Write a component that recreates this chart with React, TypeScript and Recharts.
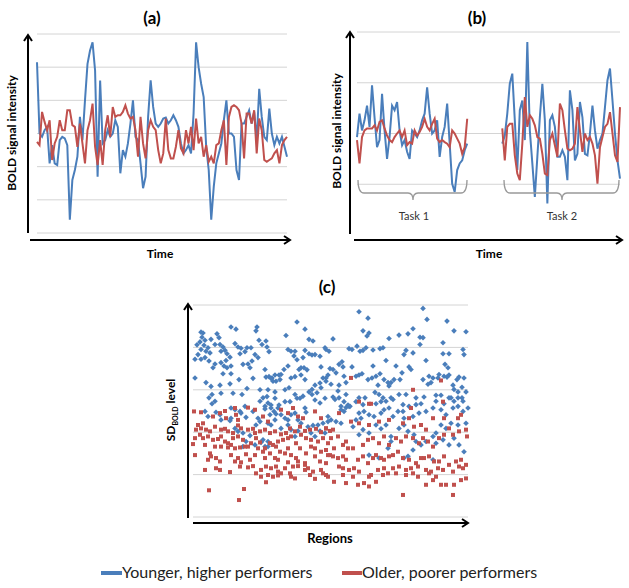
import { LineChart, Line, XAxis, YAxis, ReferenceLine, ScatterChart, Scatter } from 'recharts'

const BLUE = '#4A7EBB'
const RED = '#C0504D'
const GRID = '#d4d4d4'
const FONT = 'Lato, "Open Sans", sans-serif'

// (a) resting-state time courses
const restYounger = [
  5.15, 3.0, 2.9, 3.1, 3.2, 2.1, 2.65, 2.1, 2.05, 2.8,
  2.9, 2.85, 2.65, 0.4, 1.6, 1.9, 2.3, 3.5, 2.8, 4.0,
  5.1, 5.5, 5.75, 4.9, 1.7, 4.6, 2.7, 2.8, 3.1, 2.9,
  3.0, 3.4, 3.2, 1.8, 2.5, 2.3, 2.7, 3.3, 4.0, 2.9,
  2.8, 2.1, 1.35, 1.7, 3.5, 4.6, 3.8, 3.3, 3.2, 3.3,
  3.45, 3.48, 3.3, 3.4, 3.55, 3.4, 3.2, 2.7, 2.4, 2.5,
  2.65, 2.4, 3.6, 5.75, 5.0, 4.5, 4.1, 2.6, 1.9, 0.4,
  1.4, 2.1, 2.4, 2.7, 3.4, 4.0, 3.0, 3.0, 2.9, 1.9,
  1.6, 3.3, 3.3, 3.5, 3.7, 3.3, 3.65, 2.8, 4.35, 3.5,
  2.9, 2.8, 3.75, 3.0, 2.65, 2.9, 2.7, 2.9, 2.6, 2.3,
]
const restOlder = [
  2.75, 2.65, 3.65, 3.35, 3.1, 3.4, 2.2, 2.7, 2.9, 3.4,
  3.1, 3.1, 3.7, 3.7, 3.25, 3.2, 2.6, 3.3, 2.7, 2.1,
  3.1, 3.4, 3.9, 2.6, 2.05, 2.8, 2.05, 3.1, 3.55, 2.9,
  3.8, 3.5, 3.55, 3.55, 3.65, 3.85, 3.6, 3.45, 3.5, 3.1,
  2.3, 3.5, 2.7, 2.25, 3.1, 3.4, 3.2, 3.1, 2.5, 2.1,
  2.4, 3.45, 2.5, 2.25, 2.25, 2.6, 3.1, 2.55, 2.4, 3.1,
  2.7, 3.2, 2.5, 3.45, 2.7, 2.9, 2.3, 2.65, 2.15, 2.3,
  2.1, 2.65, 2.7, 3.1, 3.4, 2.05, 3.5, 3.8, 3.85, 3.8,
  3.7, 3.3, 2.25, 3.6, 3.6, 3.3, 3.7, 2.4, 3.45, 3.1,
  2.2, 2.15, 2.2, 2.25, 2.4, 2.5, 2.1, 2.65, 2.8, 2.9,
]

// (b) task time courses
const task1Younger = [
  1.93, 2.39, 2.06, 2.26, 2.55, 2.13, 2.95, 2.32, 1.73, 1.87,
  2.78, 2.06, 1.5, 1.93, 2.55, 2.46, 2.62, 2.06, 1.77, 1.87,
  1.64, 1.5, 2.06, 2.0, 1.93, 2.06, 2.26, 2.39, 2.91, 2.39,
  2.0, 2.06, 2.26, 1.54, 1.93, 2.13, 2.59, 1.8, 1.01, 0.85,
  1.28, 1.41, 1.47, 1.67, 1.8,
]
const task1Older = [
  1.87, 1.41, 1.93, 2.06, 2.1, 2.1, 2.1, 2.16, 2.06, 2.23,
  2.26, 2.1, 1.96, 1.87, 1.83, 1.93, 2.0, 2.06, 1.93, 2.06,
  1.77, 1.83, 1.8, 2.06, 1.96, 2.03, 2.13, 2.29, 2.13, 2.06,
  2.19, 2.29, 1.9, 1.83, 1.87, 1.83, 1.8, 1.73, 2.06, 2.0,
  1.9, 1.8, 1.6, 1.73, 2.29,
]
const task2Younger = [
  1.8, 1.96, 2.39, 2.98, 3.18, 2.26, 1.28, 2.46, 2.65, 1.87,
  3.8, 2.06, 1.41, 0.75, 1.54, 2.32, 2.98, 2.26, 0.62, 2.26,
  2.36, 2.13, 1.54, 1.54, 1.67, 1.54, 1.08, 2.85, 2.46, 1.47,
  1.6, 2.62, 2.32, 1.6, 1.57, 2.0, 2.55, 2.06, 1.7, 1.87,
  2.0, 2.52, 3.05, 3.28, 2.65, 2.0, 1.47, 1.11,
]
const task2Older = [
  2.1, 1.47, 2.13, 2.19, 2.19, 1.57, 1.21, 1.08, 1.8, 2.72,
  2.13, 2.36, 2.29, 2.16, 1.93, 1.9, 1.6, 1.21, 1.18, 1.87,
  2.0, 1.77, 1.54, 2.59, 2.46, 2.06, 1.7, 1.67, 1.7, 1.8,
  2.52, 2.06, 1.64, 2.0, 1.87, 1.93, 1.8, 1.57, 1.01, 1.73,
  1.93, 2.13, 2.19, 2.42, 2.0, 1.57, 1.44, 2.52,
]
const task2Start = 58

// (c) SD_BOLD per region: [region, sd]
const sdYounger: [number, number][] = [
  [8,4.36],[10,4.34],[9,4.24],[12,4.17],[7,4.13],[4,4.06],[11,4.05],[15,3.99],[8,3.95],[13,3.91],
  [17,3.87],[5,3.83],[2,3.72],[8,3.72],[12,3.76],[16,3.68],[2,3.28],[18,4.19],[24,4.32],[26,4.23],
  [22,4.07],[27,4.07],[30,4.01],[28,3.91],[32,3.93],[34,3.85],[37,3.77],[33,3.69],[28,3.64],[22,3.61],
  [20,3.52],[31,3.56],[34,3.52],[38,3.56],[38,3.38],[30,3.38],[38,4.48],[43,4.43],[42,4.09],[45,4.01],
  [48,3.98],[47,3.85],[52,3.9],[54,3.99],[58,3.99],[50,3.6],[55,3.61],[59,3.68],[57,3.52],[62,3.83],
  [65,3.76],[63,4.39],[64,4.48],[66,4.17],[69,4.07],[73,4.15],[74,4.01],[76,3.9],[72,3.48],[73,3.3],
  [76,3.31],[79,3.28],[82,3.35],[86,3.35],[88,3.36],[87,3.24],[83,3.2],[80,3.2],[78,3.27],[91,3.48],
  [95,3.56],[98,3.28],[102,3.31],[106,3.48],[108,3.52],[111,3.52],[114,3.47],[108,3.35],[112,3.24],[93,4.28],
  [95,3.95],[98,3.91],[102,3.91],[101,3.8],[104,3.71],[110,3.76],[112,3.93],[116,3.85],[119,3.82],[112,4.43],
  [116,4.19],[120,4.15],[122,3.83],[127,3.79],[128,3.54],[132,3.99],[130,3.28],[127,3.16],[122,3.11],[119,3.01],
  [119,2.89],[124,2.93],[128,3.05],[133,3.2],[135,3.35],[104,4.6],[13,3.17],[18,3.08],[27,3.11],[37,3.14],
  [46,3.24],[60,3.27],[67,3.0],[75,3.0],[74,2.84],[70,2.81],[82,2.95],[92,3.0],[96,3.05],[102,2.89],
  [110,2.85],[116,2.95],[28,2.92],[19,2.89],[16,2.81],[40,2.92],[49,2.89],[54,3.03],[67,2.73],[75,2.69],
  [82,2.8],[86,2.64],[92,2.72],[97,2.72],[104,2.8],[107,2.8],[122,2.76],[127,2.69],[132,2.8],[19,2.67],
  [22,2.73],[52,2.61],[72,2.61],[78,2.64],
  [166,4.84],[175,4.69],[230,4.92],[234,4.66],[254,4.62],[140,4.2],[170,4.39],[176,4.34],[174,4.27],[196,4.21],
  [206,4.29],[215,4.32],[220,4.44],[227,4.24],[230,4.23],[261,4.39],[273,4.37],[156,3.97],[159,3.95],[164,4.03],
  [167,3.91],[170,3.93],[173,3.99],[180,3.94],[187,3.97],[190,3.99],[213,3.93],[211,3.83],[220,3.87],[227,4.07],
  [250,4.11],[250,3.85],[256,3.85],[270,3.95],[271,3.83],[133,3.95],[136,3.91],[193,3.69],[203,3.56],[216,3.54],
  [218,3.48],[233,3.69],[252,3.6],[255,3.52],[146,3.6],[149,3.66],[137,3.5],[140,3.48],[143,3.4],[150,3.54],
  [151,3.32],[159,3.54],[163,3.32],[166,3.35],[169,3.38],[175,3.24],[179,3.28],[183,3.32],[187,3.38],[185,3.11],
  [191,3.24],[195,3.17],[196,3.09],[198,3.17],[201,3.24],[207,3.24],[209,3.4],[180,3.56],[133,3.28],[138,3.13],
  [146,3.11],[153,3.17],[145,2.97],[140,2.83],[142,2.77],[146,2.81],[153,2.89],[151,2.72],[148,2.61],[155,2.64],
  [157,2.61],[166,2.81],[172,2.81],[182,2.94],[186,2.89],[190,2.81],[193,2.73],[198,2.81],[200,2.77],[206,2.89],
  [213,2.89],[223,2.81],[231,2.83],[230,3.24],[236,3.32],[240,3.28],[238,3.17],[235,3.13],[245,3.28],[246,3.36],
  [251,3.32],[254,3.3],[256,3.35],[260,3.11],[264,3.24],[266,3.3],[271,3.28],[269,3.06],[261,3.01],[265,2.95],
  [273,2.95],[243,2.87],[248,2.87],[256,2.81],[258,2.81],[261,2.73],[265,2.81],[269,2.81],[270,2.73],[210,2.65],
  [223,2.65],[228,2.67],[216,2.61],[243,2.73],[251,2.67],[170,2.65],[163,2.72],[183,2.67],[188,2.72],
  [12,2.49],[15,2.37],[23,2.47],[27,2.41],[28,2.29],[38,2.57],[42,2.53],[47,2.49],[48,2.45],[38,2.33],
  [37,2.27],[60,2.49],[53,2.35],[72,2.55],[78,2.57],[81,2.49],[83,2.43],[85,2.57],[88,2.41],[92,2.33],
  [95,2.29],[98,2.41],[102,2.45],[105,2.29],[112,2.57],[113,2.47],[108,2.21],[95,2.17],[88,2.09],[98,2.06],
  [105,2.03],[115,2.13],[120,2.16],[125,2.17],[130,2.21],[135,2.25],[127,2.03],[132,1.98],[82,2.29],[75,2.21],
  [77,2.41],[67,2.25],[63,2.17],[65,2.33],[42,2.09],[45,2.02],[50,1.98],[57,1.92],[70,1.82],[68,1.76],
  [75,1.78],[72,1.66],[75,1.66],[53,1.78],[50,1.66],[62,1.7],[78,2.17],[118,1.98],[122,1.9],[102,1.9],
  [148,2.53],[153,2.58],[156,2.61],[151,2.49],[166,2.45],[171,2.49],[176,2.41],[168,2.33],[163,2.29],[181,2.37],
  [188,2.45],[191,2.53],[196,2.57],[200,2.37],[205,2.49],[210,2.49],[211,2.33],[220,2.37],[226,2.45],[233,2.49],
  [240,2.57],[248,2.53],[253,2.41],[260,2.57],[265,2.61],[270,2.49],[275,2.57],[135,2.37],[138,2.29],[143,2.25],
  [148,2.21],[160,2.13],[170,2.06],[166,1.94],[176,1.98],[183,2.17],[188,2.08],[193,2.17],[198,1.9],[206,2.09],
  [211,2.17],[215,2.02],[221,1.94],[223,1.78],[228,1.7],[233,1.78],[240,1.9],[243,1.98],[248,2.17],[253,2.09],
  [258,2.21],[265,2.17],[273,2.21],[243,1.74],[250,1.82],[256,1.7],[261,1.86],[266,1.7],[271,1.54],[176,1.46],
  [186,1.39],[211,1.39],[215,1.43],[240,1.35],[195,1.62],[220,1.58],[198,1.78],
]
const sdOlder: [number, number][] = [
  [42,2.57],[100,2.57],[158,3.28],[220,3.0],[248,3.22],[166,2.72],[176,2.67],[178,2.67],[250,2.72],
  [1,2.49],[8,2.47],[20,2.37],[27,2.45],[32,2.5],[33,2.33],[43,2.41],[45,2.29],[55,2.58],[62,2.53],
  [75,2.25],[70,2.37],[88,2.53],[95,2.45],[105,2.37],[110,2.33],[122,2.49],[128,2.33],[5,2.17],[10,2.21],
  [3,2.06],[8,2.09],[13,2.06],[17,2.02],[22,2.13],[28,2.06],[32,2.08],[35,2.02],[40,1.98],[45,2.16],
  [48,2.09],[55,2.06],[60,2.08],[62,1.98],[67,2.02],[72,2.06],[77,1.98],[82,2.02],[88,1.95],[93,1.98],
  [97,2.09],[102,2.02],[107,2.13],[112,2.03],[117,2.06],[123,2.08],[128,2.0],[133,2.09],[137,2.03],[7,1.94],
  [2,1.86],[10,1.86],[15,1.9],[20,1.82],[25,1.84],[28,1.9],[32,1.78],[35,1.74],[40,1.86],[45,1.9],
  [50,1.82],[52,1.66],[58,1.74],[63,1.86],[67,1.76],[77,1.74],[80,1.7],[85,1.78],[90,1.82],[95,1.86],
  [98,1.9],[103,1.74],[108,1.94],[113,1.86],[118,1.82],[125,1.78],[130,1.86],[135,1.74],[0,1.72],[12,1.7],
  [22,1.66],[28,1.66],[35,1.64],[38,1.7],[42,1.62],[47,1.64],[55,1.66],[65,1.62],[72,1.62],[83,1.66],
  [95,1.62],[107,1.62],[118,1.66],[2,1.46],[17,1.5],[18,1.43],[23,1.39],[38,1.46],[45,1.39],[53,1.48],
  [62,1.46],[70,1.54],[77,1.5],[87,1.54],[92,1.5],[98,1.46],[103,1.39],[113,1.5],[122,1.43],[128,1.54],
  [133,1.58],[137,1.46],[15,1.35],[27,1.31],[42,1.31],[48,1.29],[57,1.35],[72,1.39],[82,1.39],[85,1.35],
  [95,1.29],[105,1.31],[112,1.27],[127,1.31],[133,1.27],[122,1.62],[12,1.11],[23,1.15],[27,1.11],[37,1.06],
  [47,1.19],[55,1.17],[60,1.2],[63,1.03],[68,1.11],[73,1.19],[78,1.15],[83,1.19],[85,1.07],[92,1.15],
  [97,1.03],[100,1.19],[105,1.2],[112,1.23],[115,1.15],[120,1.07],[128,1.11],[133,0.99],[75,0.99],[80,0.95],
  [85,0.98],[98,0.95],[102,0.91],[68,0.95],[73,0.82],[88,1.03],[112,1.11],[117,0.99],[122,0.9],[130,1.03],
  [16,0.63],[51,0.66],[46,0.4],
  [133,2.09],[140,2.06],[138,1.86],[145,1.9],[150,1.7],[153,1.78],[141,1.62],[155,1.62],[160,1.62],[170,1.7],
  [175,1.82],[180,1.86],[186,1.74],[191,1.9],[196,1.7],[203,1.86],[208,1.78],[213,1.9],[220,1.86],[226,1.74],
  [230,1.86],[235,1.78],[240,1.66],[246,1.86],[251,1.94],[256,2.09],[260,1.94],[266,2.02],[273,2.06],[274,1.9],
  [135,1.46],[140,1.43],[145,1.39],[150,1.43],[153,1.35],[146,1.19],[150,1.15],[156,1.11],[161,1.15],[166,1.07],
  [175,1.27],[180,1.39],[183,1.46],[188,1.39],[191,1.35],[196,1.43],[200,1.46],[205,1.54],[210,1.39],[216,1.35],
  [223,1.27],[228,1.39],[231,1.39],[236,1.43],[241,1.31],[246,1.31],[251,1.43],[256,1.23],[263,1.31],[268,1.35],
  [273,1.23],[170,1.43],[165,1.35],[185,1.11],[191,1.15],[200,1.15],[206,1.19],[213,1.11],[218,1.15],[225,1.19],
  [233,1.11],[238,1.07],[245,1.15],[250,1.11],[260,1.07],[266,1.19],[270,1.15],[135,0.95],[141,0.83],[150,0.99],
  [153,0.8],[160,0.95],[165,0.76],[171,0.8],[176,0.72],[178,0.99],[183,0.83],[190,0.99],[195,1.03],[203,1.03],
  [213,0.99],[220,1.03],[225,0.95],[233,0.76],[236,1.03],[240,0.87],[243,0.95],[248,0.76],[253,0.76],[261,0.76],
  [268,0.87],[273,0.91],[210,0.52],[260,0.52],[176,0.95],[221,2.13],[228,2.17],[233,2.06],[216,2.33],[196,2.29],
  [186,2.25],[176,2.17],[166,2.21],[158,2.25],[146,2.45],[210,2.21],[240,2.33],[251,2.33],[265,2.33],[268,2.41],
  [218,2.57],
]

const restTicks = [0, 1, 2, 3, 4, 5, 6]
const taskTicks = [1, 2, 3, 4]
const sdTicks = [0, 1, 2, 3, 4, 5]

const restData = restYounger.map((v, i) => ({ t: i, younger: v, older: restOlder[i] }))
const task1Data = task1Younger.map((v, i) => ({ t: i, younger: v, older: task1Older[i] }))
const task2Data = task2Younger.map((v, i) => ({ t: task2Start + i, younger: v, older: task2Older[i] }))
const youngerPts = sdYounger.map(([region, sd]) => ({ region, sd }))
const olderPts = sdOlder.map(([region, sd]) => ({ region, sd }))

const Diamond = (p: any) => (
  <polygon
    points={`${p.cx},${p.cy - 2.8} ${p.cx + 2.8},${p.cy} ${p.cx},${p.cy + 2.8} ${p.cx - 2.8},${p.cy}`}
    fill={BLUE}
  />
)
const Square = (p: any) => <rect x={p.cx - 2} y={p.cy - 2} width={4} height={4} fill={RED} />

const gridLines = (ticks: number[]) =>
  ticks.map((v) => <ReferenceLine key={v} y={v} stroke={GRID} strokeWidth={1} ifOverflow="visible" />)

function Arrows({ x, yTop, yBot, xLeft, xRight, yAxis }: any) {
  return (
    <g stroke="#000" strokeWidth={2} fill="none">
      <line x1={x} y1={yBot} x2={x} y2={yTop} />
      <polyline points={`${x - 4},${yTop + 6} ${x},${yTop} ${x + 4},${yTop + 6}`} />
      <line x1={xLeft} y1={yAxis} x2={xRight} y2={yAxis} />
      <polyline points={`${xRight - 6},${yAxis - 4} ${xRight},${yAxis} ${xRight - 6},${yAxis + 4}`} />
    </g>
  )
}

function Brace({ x1, x2, xc }: any) {
  const yt = 180, ym = 193, yb = 200
  return (
    <path
      d={`M${x1},${yt} Q${x1},${ym} ${x1 + 6},${ym} L${xc - 5},${ym} Q${xc},${ym} ${xc},${yb} Q${xc},${ym} ${xc + 5},${ym} L${x2 - 6},${ym} Q${x2},${ym} ${x2},${yt}`}
      stroke="#999"
      strokeWidth={1.3}
      fill="none"
    />
  )
}

export default function App() {
  return (
    <div style={{ position: 'absolute', left: 0, top: 0, width: 629, height: 588, background: '#fff', fontFamily: FONT }}>
      <div style={{ position: 'absolute', left: 0, top: 0 }}>
        <LineChart width={300} height={260} data={restData} margin={{ top: 34, left: 37, right: 13, bottom: 27 }}>
          <XAxis dataKey="t" type="number" domain={[0, 99]} height={0} tick={false} axisLine={false} tickLine={false} />
          <YAxis domain={[0, 6]} ticks={restTicks} width={0} tick={false} axisLine={false} tickLine={false} />
          {gridLines(restTicks)}
          <Line dataKey="younger" stroke={BLUE} strokeWidth={2} dot={false} isAnimationActive={false} />
          <Line dataKey="older" stroke={RED} strokeWidth={2} dot={false} isAnimationActive={false} />
        </LineChart>
      </div>

      <div style={{ position: 'absolute', left: 340, top: 0 }}>
        <LineChart width={289} height={260} margin={{ top: 32, left: 17, right: 9, bottom: 25 }}>
          <XAxis dataKey="t" type="number" domain={[0, 105]} allowDuplicatedCategory={false} height={0} tick={false} axisLine={false} tickLine={false} />
          <YAxis domain={[0, 4]} ticks={taskTicks} width={0} tick={false} axisLine={false} tickLine={false} />
          {gridLines(taskTicks)}
          <Line data={task1Data} dataKey="younger" stroke={BLUE} strokeWidth={2} dot={false} isAnimationActive={false} />
          <Line data={task2Data} dataKey="younger" stroke={BLUE} strokeWidth={2} dot={false} isAnimationActive={false} />
          <Line data={task1Data} dataKey="older" stroke={RED} strokeWidth={2} dot={false} isAnimationActive={false} />
          <Line data={task2Data} dataKey="older" stroke={RED} strokeWidth={2} dot={false} isAnimationActive={false} />
        </LineChart>
      </div>

      <div style={{ position: 'absolute', left: 150, top: 270 }}>
        <ScatterChart width={330} height={260} margin={{ top: 35, left: 43, right: 12, bottom: 13 }}>
          <XAxis dataKey="region" type="number" domain={[0, 275]} height={0} tick={false} axisLine={false} tickLine={false} />
          <YAxis dataKey="sd" type="number" domain={[0, 5]} ticks={sdTicks} width={0} tick={false} axisLine={false} tickLine={false} />
          {gridLines(sdTicks)}
          <Scatter data={youngerPts} shape={Diamond} isAnimationActive={false} />
          <Scatter data={olderPts} shape={Square} isAnimationActive={false} />
        </ScatterChart>
      </div>

      <svg width={629} height={588} style={{ position: 'absolute', left: 0, top: 0, pointerEvents: 'none' }} fontFamily={FONT}>
        <Arrows x={28} yTop={35} yBot={233} xLeft={30} xRight={290} yAxis={240} />
        <Arrows x={350} yTop={32} yBot={234} xLeft={354} xRight={622} yAxis={240} />
        <Arrows x={188} yTop={304} yBot={518} xLeft={193} xRight={468} yAxis={523} />

        <g fontWeight="bold" fill="#000" textAnchor="middle">
          <text x={152} y={24} fontSize={17}>(a)</text>
          <text x={477} y={24} fontSize={17}>(b)</text>
          <text x={327} y={293} fontSize={17}>(c)</text>
          <text x={160} y={258} fontSize={12}>Time</text>
          <text x={489} y={258} fontSize={12}>Time</text>
          <text x={330} y={543} fontSize={13}>Regions</text>
          <text transform="translate(16,133) rotate(-90)" fontSize={12}>BOLD signal intensity</text>
          <text transform="translate(341,131) rotate(-90)" fontSize={12}>BOLD signal intensity</text>
          <text transform="translate(175,410) rotate(-90)" fontSize={12}>
            SD<tspan fontSize={7} dy={3}>BOLD</tspan><tspan dy={-3}> level</tspan>
          </text>
        </g>

        <Brace x1={358} x2={467} xc={413} />
        <Brace x1={504} x2={619} xc={562} />
        <g fontSize={11} fill="#333" textAnchor="middle">
          <text x={414} y={220}>Task 1</text>
          <text x={562} y={220}>Task 2</text>
        </g>

        <line x1={101} y1={573} x2={122} y2={573} stroke={BLUE} strokeWidth={4} />
        <text x={122} y={578} fontSize={16} fill="#222">Younger, higher performers</text>
        <line x1={342} y1={573} x2={362} y2={573} stroke={RED} strokeWidth={4} />
        <text x={362} y={578} fontSize={16} fill="#222">Older, poorer performers</text>
      </svg>
    </div>
  )
}
